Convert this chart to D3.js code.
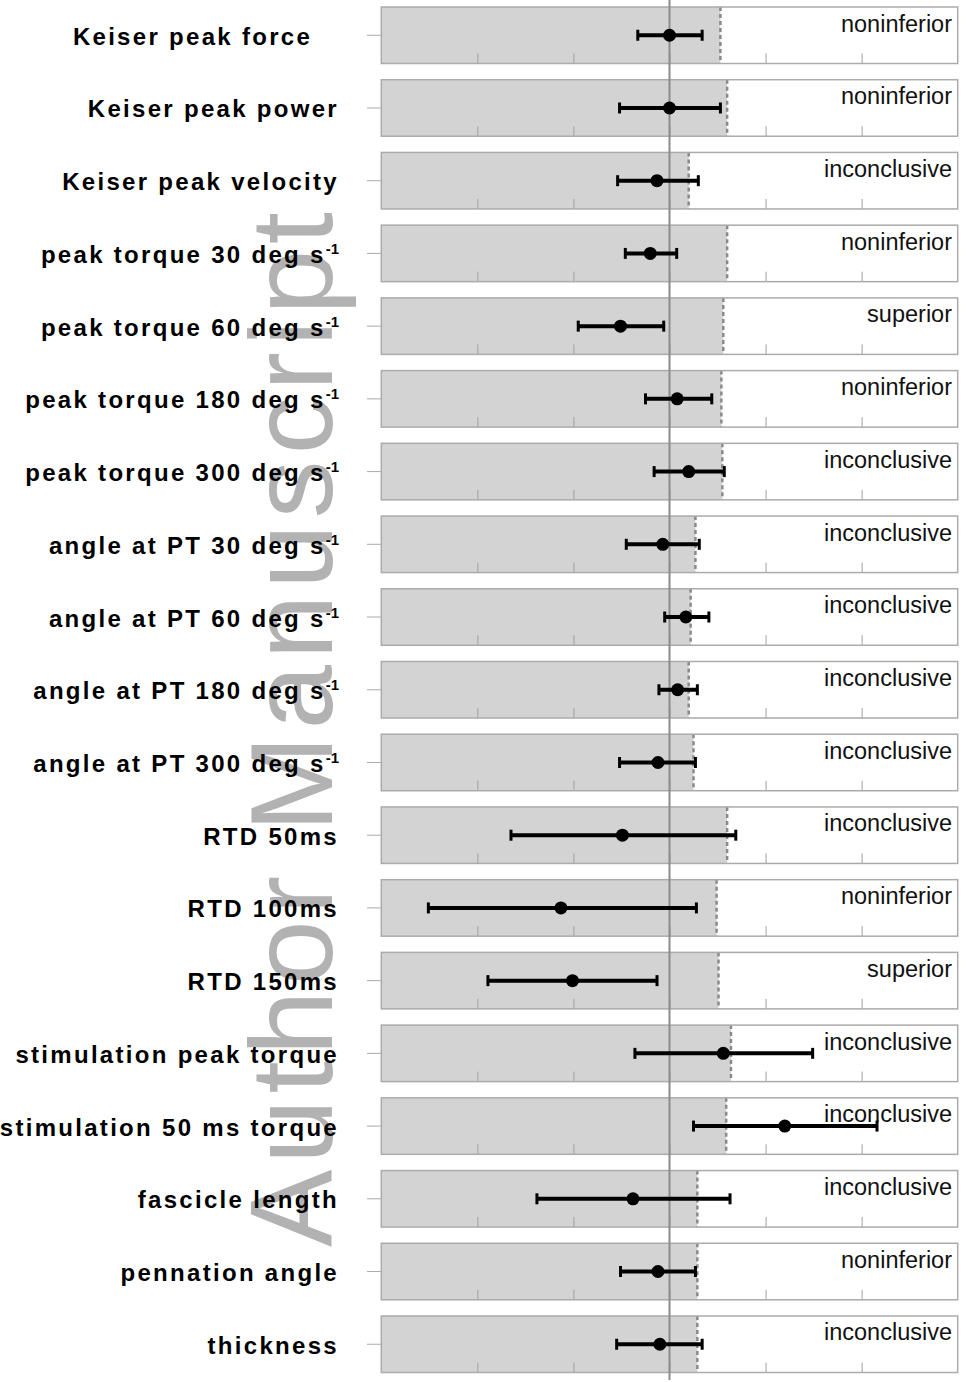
<!DOCTYPE html>
<html>
<head>
<meta charset="utf-8">
<script src="https://cdn.jsdelivr.net/npm/d3@7"></script>
<style>
  html, body { margin: 0; padding: 0; background: #fff; }
  svg { display: block; }
</style>
</head>
<body>
<svg id="chart" width="966" height="1382"></svg>
<script>
// Outcome names; "^" marks the start of a superscript unit exponent
const outcomes = [
  "Keiser peak force   ",
  "Keiser peak power",
  "Keiser peak velocity",
  "peak torque 30 deg s^-1",
  "peak torque 60 deg s^-1",
  "peak torque 180 deg s^-1",
  "peak torque 300 deg s^-1",
  "angle at PT 30 deg s^-1",
  "angle at PT 60 deg s^-1",
  "angle at PT 180 deg s^-1",
  "angle at PT 300 deg s^-1",
  "RTD 50ms",
  "RTD 100ms",
  "RTD 150ms",
  "stimulation peak torque",
  "stimulation 50 ms torque",
  "fascicle length",
  "pennation angle",
  "thickness"
];

// Standardised effect estimate and its confidence interval
const estimate = [0.00, 0.00, -0.13, -0.20, -0.51, 0.08, 0.20, -0.07, 0.17, 0.085, -0.12,
                  -0.49, -1.13, -1.01, 0.56, 1.20, -0.38, -0.12, -0.10];
const ciLower  = [-0.33, -0.52, -0.54, -0.46, -0.95, -0.25, -0.16, -0.45, -0.05, -0.11, -0.52,
                  -1.65, -2.51, -1.89, -0.36, 0.25, -1.38, -0.51, -0.55];
const ciUpper  = [0.34, 0.53, 0.30, 0.075, -0.06, 0.44, 0.57, 0.31, 0.41, 0.29, 0.27,
                  0.69, 0.28, -0.13, 1.49, 2.16, 0.63, 0.27, 0.34];

// Non-inferiority margin for each outcome
const margin   = [0.53, 0.60, 0.20, 0.60, 0.56, 0.54, 0.55, 0.27, 0.22, 0.20, 0.25,
                  0.60, 0.49, 0.51, 0.64, 0.59, 0.29, 0.29, 0.29];

// Verdict for each outcome
const verdict  = ["noninferior", "noninferior", "inconclusive", "noninferior", "superior",
                  "noninferior", "inconclusive", "inconclusive", "inconclusive", "inconclusive",
                  "inconclusive", "inconclusive", "noninferior", "superior", "inconclusive",
                  "inconclusive", "inconclusive", "noninferior", "inconclusive"];

const xDomain = [-3, 3];
const xTicks  = [-2, -1, 0, 1, 2];

const rows = outcomes.map((name, i) => ({
  name, est: estimate[i], lo: ciLower[i], hi: ciUpper[i], m: margin[i], verdict: verdict[i]
}));

const svg = d3.select("#chart");
const FONT = "'Liberation Sans', Arial, Helvetica, sans-serif";

const x = d3.scaleLinear().domain(xDomain).range([381.3, 957.7]);
const y = d3.scaleBand()
  .domain(d3.range(rows.length))
  .range([7, 1372.5])
  .paddingInner(0.223)
  .paddingOuter(0);
const bw = y.bandwidth();

// Watermark behind everything
svg.append("text")
  .attr("transform", "translate(332,1247) rotate(-90)")
  .attr("font-family", FONT)
  .attr("font-size", 116)
  .attr("fill", "#b2b2b2")
  .attr("textLength", 1035)
  .attr("lengthAdjust", "spacing")
  .text("Author Manuscript");

// Row labels (bold, right aligned, with superscript exponent)
const labelG = svg.append("g")
  .attr("font-family", FONT)
  .attr("font-weight", "bold")
  .attr("fill", "#000");

rows.forEach((d, i) => {
  const parts = d.name.split("^");
  const t = labelG.append("text")
    .attr("x", 339)
    .attr("y", y(i) + bw / 2 + 9.5)
    .attr("text-anchor", "end")
    .attr("font-size", 24)
    .attr("letter-spacing", 2.3)
    .style("white-space", "pre");
  t.append("tspan").text(parts[0]);
  if (parts.length > 1) {
    t.append("tspan")
      .attr("dy", -9)
      .attr("font-size", 15)
      .attr("letter-spacing", 0)
      .text(parts[1]);
  }
});

// Left axis ticks at each row centre
const yAxis = d3.axisLeft(y).tickSize(14).tickFormat("");
const ya = svg.append("g").attr("transform", "translate(381,0)").call(yAxis);
ya.select(".domain").remove();
ya.selectAll(".tick line").attr("stroke", "#aaa").attr("stroke-width", 1);

// Panels
const panel = svg.selectAll("g.panel")
  .data(rows)
  .join("g")
  .attr("class", "panel")
  .attr("transform", (d, i) => `translate(0,${y(i)})`);

// white background
panel.append("rect")
  .attr("x", x(xDomain[0])).attr("y", 0)
  .attr("width", x(xDomain[1]) - x(xDomain[0])).attr("height", bw)
  .attr("fill", "#fff");

// shaded region up to the margin
panel.append("rect")
  .attr("x", x(xDomain[0])).attr("y", 0)
  .attr("width", d => x(d.m) - x(xDomain[0])).attr("height", bw)
  .attr("fill", "#d3d3d3");

// bottom ticks pointing inward
panel.each(function () {
  const g = d3.select(this).append("g").attr("transform", `translate(0,${bw})`)
    .call(d3.axisBottom(x).tickValues(xTicks).tickSize(-10).tickFormat(""));
  g.select(".domain").remove();
  g.selectAll(".tick line").attr("stroke", "#a0a0a0").attr("stroke-width", 1);
});

// margin line
panel.append("line")
  .attr("x1", d => x(d.m)).attr("x2", d => x(d.m))
  .attr("y1", 0).attr("y2", bw)
  .attr("stroke", "#8a8a8a").attr("stroke-width", 2.5)
  .attr("stroke-dasharray", "4,3");

// panel border
panel.append("rect")
  .attr("x", x(xDomain[0])).attr("y", 0)
  .attr("width", x(xDomain[1]) - x(xDomain[0])).attr("height", bw)
  .attr("fill", "none")
  .attr("stroke", "#ababab").attr("stroke-width", 1.5);

// verdict text
panel.append("text")
  .attr("x", 952).attr("y", 24.5)
  .attr("text-anchor", "end")
  .attr("font-family", FONT)
  .attr("font-size", 23.5)
  .attr("fill", "#111")
  .text(d => d.verdict);

// Zero reference line across the whole figure
svg.append("line")
  .attr("x1", x(0)).attr("x2", x(0))
  .attr("y1", 0).attr("y2", 1380)
  .attr("stroke", "#8c8c8c").attr("stroke-width", 2);

// Confidence intervals and estimates
const ci = svg.selectAll("g.ci")
  .data(rows)
  .join("g")
  .attr("class", "ci")
  .attr("transform", (d, i) => `translate(0,${y(i) + bw / 2})`);

ci.append("line")
  .attr("x1", d => x(d.lo)).attr("x2", d => x(d.hi))
  .attr("stroke", "#000").attr("stroke-width", 4);
ci.append("line")
  .attr("x1", d => x(d.lo)).attr("x2", d => x(d.lo))
  .attr("y1", -5.5).attr("y2", 5.5)
  .attr("stroke", "#000").attr("stroke-width", 3);
ci.append("line")
  .attr("x1", d => x(d.hi)).attr("x2", d => x(d.hi))
  .attr("y1", -5.5).attr("y2", 5.5)
  .attr("stroke", "#000").attr("stroke-width", 3);
ci.append("circle")
  .attr("cx", d => x(d.est)).attr("cy", 0)
  .attr("r", 6.5)
  .attr("fill", "#000");
</script>
</body>
</html>
